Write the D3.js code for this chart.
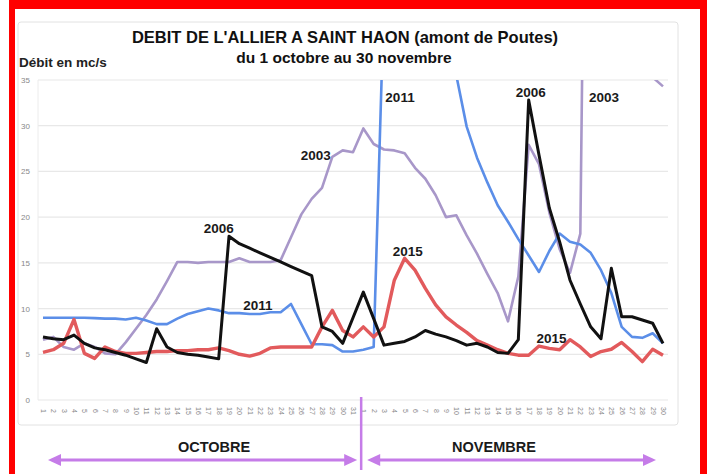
<!DOCTYPE html>
<html>
<head>
<meta charset="utf-8">
<script src="https://cdn.jsdelivr.net/npm/d3@7"></script>
<style>
  body { margin: 0; background: #fff; }
  svg text { font-family: "Liberation Sans", Arial, sans-serif; }
</style>
</head>
<body>
<div id="chart"></div>
<script>
// day labels, 1 oct -> 30 nov
const octDays = [1,2,3,4,5,6,7,8,9,10,11,12,13,14,15,16,17,18,19,20,21,22,23,24,25,26,27,28,29,30,31];
const novDays = [1,2,3,4,5,6,7,8,9,10,11,12,13,14,15,16,17,18,19,20,21,22,23,24,25,26,27,28,29,30];
const dayLabels = octDays.concat(novDays);
const yTicks = [0, 5, 10, 15, 20, 25, 30, 35];

// débit en mc/s (values above 35 run off the chart)
const q2003 = [6.6, 6.9, 5.8, 5.5, 6.2, 5.8, 5.1, 5.0, 6.3, 7.8, 9.3, 11.0, 13.0, 15.1, 15.1, 15.0, 15.1, 15.1, 15.1, 15.5,
  15.1, 15.1, 15.1, 15.3, 17.8, 20.3, 22.0, 23.2, 26.6, 27.3, 27.1,
  29.7, 28.0, 27.4, 27.3, 27.0, 25.4, 24.2, 22.4, 20.0, 20.2, 18.0, 16.0, 13.8, 11.7, 8.6, 13.5, 27.9, 25.8, 20.5, 16.5,
  13.9, 18.2, 118, 95, 75, 60, 50, 42, 35.3, 34.3];
const q2006 = [6.9, 6.7, 6.6, 7.1, 6.2, 5.7, 5.5, 5.2, 4.9, 4.5, 4.1, 7.8, 5.8, 5.2, 5.0, 4.9, 4.7, 4.5, 17.9, 17.1,
  16.6, 16.1, 15.6, 15.1, 14.6, 14.1, 13.6, 8.0, 7.5, 6.2, 9.0,
  11.8, 8.9, 6.0, 6.2, 6.4, 6.9, 7.6, 7.2, 6.9, 6.5, 6.0, 6.2, 5.8, 5.2, 5.1, 6.6, 32.8, 26.8, 21.0, 17.3,
  13.1, 10.5, 8.0, 6.7, 14.4, 9.1, 9.1, 8.75, 8.4, 6.2];
const q2011 = [9.0, 9.0, 9.0, 9.0, 9.0, 8.95, 8.9, 8.9, 8.8, 9.0, 8.7, 8.3, 8.3, 8.9, 9.4, 9.7, 10.0, 9.8, 9.5, 9.5,
  9.4, 9.4, 9.6, 9.6, 10.5, 8.3, 6.1, 6.1, 6.0, 5.3, 5.3,
  5.5, 5.8, 44, 60, 70, 65, 58, 50, 42, 35.5, 29.9, 26.5, 23.8, 21.3, 19.5, 17.6, 15.8, 14.0, 16.3, 18.2,
  17.3, 17.0, 16.1, 14.2, 11.7, 8.0, 6.9, 6.8, 7.3, 6.2];
const q2015 = [5.2, 5.5, 6.2, 8.8, 5.1, 4.55, 5.8, 5.3, 5.1, 5.1, 5.2, 5.3, 5.3, 5.4, 5.4, 5.5, 5.5, 5.7, 5.4, 5.0,
  4.8, 5.1, 5.7, 5.8, 5.8, 5.8, 5.8, 8.0, 9.8, 7.6, 6.9,
  8.0, 6.9, 8.0, 13.1, 15.5, 14.2, 12.2, 10.4, 9.1, 8.2, 7.4, 6.5, 6.0, 5.5, 5.1, 4.9, 4.9, 5.9, 5.65, 5.5,
  6.6, 5.8, 4.75, 5.3, 5.55, 6.3, 5.3, 4.2, 5.55, 4.9];

const seriesNames = ["2003", "2011", "2015", "2006"];
const seriesValues = { "2003": q2003, "2011": q2011, "2015": q2015, "2006": q2006 };

class DebitChart {
    constructor(parentElement) {
        this.parentElement = parentElement;
        this.initVis();
    }

    initVis() {
        let vis = this;

        vis.width = 707;
        vis.height = 474;
        vis.plot = { left: 38, right: 668, top: 80, bottom: 400 };

        vis.svg = d3.select(`#${vis.parentElement}`)
            .append("svg")
            .attr("width", vis.width)
            .attr("height", vis.height);

        // red frame
        vis.svg.append("rect")
            .attr("x", 9).attr("y", -10)
            .attr("width", 710).attr("height", 500)
            .attr("fill", "#ff0000");
        vis.svg.append("rect")
            .attr("x", 15).attr("y", 9)
            .attr("width", 685).attr("height", 480)
            .attr("fill", "#fff");

        // chart panel
        vis.svg.append("rect")
            .attr("x", 18).attr("y", 22)
            .attr("width", 660).attr("height", 403)
            .attr("rx", 3)
            .attr("fill", "#fff")
            .attr("stroke", "#e2e2e2");

        // scales
        vis.x = d3.scaleLinear()
            .domain([0, dayLabels.length - 1])
            .range([43, 663]);
        vis.y = d3.scaleLinear()
            .domain([0, 35])
            .range([vis.plot.bottom, vis.plot.top]);

        // grid
        vis.svg.append("g")
            .selectAll("line")
            .data(yTicks)
            .join("line")
            .attr("x1", vis.plot.left)
            .attr("x2", vis.plot.right)
            .attr("y1", d => vis.y(d))
            .attr("y2", d => vis.y(d))
            .attr("stroke", "#e8e8e8")
            .attr("stroke-width", 1.2);
        vis.svg.append("line")
            .attr("x1", vis.plot.left).attr("x2", vis.plot.left)
            .attr("y1", vis.plot.top).attr("y2", vis.plot.bottom)
            .attr("stroke", "#ececec");

        // axes
        vis.yAxisGroup = vis.svg.append("g")
            .attr("transform", `translate(${vis.plot.left}, 0)`)
            .call(d3.axisLeft(vis.y).tickValues(yTicks).tickSize(0).tickPadding(8));
        vis.yAxisGroup.select(".domain").remove();
        vis.yAxisGroup.selectAll("text")
            .attr("font-size", 8)
            .attr("font-family", "Liberation Sans, Arial, sans-serif")
            .attr("fill", "#888");

        vis.xAxisGroup = vis.svg.append("g")
            .attr("transform", `translate(0, ${vis.plot.bottom})`)
            .call(d3.axisBottom(vis.x)
                .tickValues(d3.range(dayLabels.length))
                .tickFormat(i => dayLabels[i])
                .tickSize(0));
        vis.xAxisGroup.select(".domain").remove();
        vis.xAxisGroup.selectAll("text")
            .attr("font-size", 7)
            .attr("font-family", "Liberation Sans, Arial, sans-serif")
            .attr("fill", "#888")
            .attr("text-anchor", "middle")
            .attr("dy", null)
            .attr("y", 0)
            .attr("transform", "translate(0, 11) rotate(90)")
            .attr("dominant-baseline", "central");

        // title
        vis.svg.append("text")
            .attr("x", 345).attr("y", 43)
            .attr("text-anchor", "middle")
            .attr("font-size", 16.5).attr("font-weight", "bold")
            .attr("fill", "#111")
            .text("DEBIT DE L'ALLIER A SAINT HAON (amont de Poutes)");
        vis.svg.append("text")
            .attr("x", 344).attr("y", 63)
            .attr("text-anchor", "middle")
            .attr("font-size", 15.5).attr("font-weight", "bold")
            .attr("fill", "#111")
            .text("du 1 octobre au 30 novembre");
        vis.svg.append("text")
            .attr("x", 19).attr("y", 67)
            .attr("font-size", 13.5).attr("font-weight", "bold")
            .attr("fill", "#222")
            .text("Débit en mc/s");

        vis.svg.append("clipPath")
            .attr("id", "plot-clip")
            .append("rect")
            .attr("x", vis.plot.left).attr("y", vis.plot.top)
            .attr("width", vis.plot.right - vis.plot.left)
            .attr("height", vis.plot.bottom - vis.plot.top);

        vis.linesGroup = vis.svg.append("g").attr("clip-path", "url(#plot-clip)");

        vis.updateVis();
    }

    updateVis() {
        let vis = this;

        const colors = { "2003": "#a897c9", "2011": "#5b8ee8", "2015": "#e25a5c", "2006": "#111111" };
        const widths = { "2003": 2.6, "2011": 2.6, "2015": 3.4, "2006": 3.0 };

        const line = d3.line()
            .x((d, i) => vis.x(i))
            .y(d => vis.y(d));

        vis.linesGroup.selectAll(".serie")
            .data(seriesNames)
            .join("path")
            .attr("class", "serie")
            .attr("d", name => line(seriesValues[name]))
            .attr("fill", "none")
            .attr("stroke", name => colors[name])
            .attr("stroke-width", name => widths[name])
            .attr("stroke-linejoin", "round");

        // year labels next to the curves (day index, débit)
        const notes = [
            ["2011", 34.55, 32.6], ["2006", 47.2, 33.1], ["2003", 54.3, 32.6],
            ["2003", 26.4, 26.2], ["2006", 17.0, 18.3], ["2011", 20.8, 9.85],
            ["2015", 35.3, 15.75], ["2015", 49.2, 6.2]
        ];
        vis.svg.append("g")
            .selectAll("text")
            .data(notes)
            .join("text")
            .attr("x", d => vis.x(d[1]))
            .attr("y", d => vis.y(d[2]))
            .attr("text-anchor", "middle")
            .attr("font-size", 13.5).attr("font-weight", "bold")
            .attr("fill", "#1a1a1a")
            .text(d => d[0]);

        // months band
        const monthColor = "#c57ce8";
        const split = (vis.x(30) + vis.x(31)) / 2 + 3;
        vis.svg.append("line")
            .attr("x1", split).attr("x2", split)
            .attr("y1", 397).attr("y2", 470)
            .attr("stroke", monthColor).attr("stroke-width", 2.5);

        const months = [
            { name: "OCTOBRE", from: 48, to: split - 4, label: 214 },
            { name: "NOVEMBRE", from: split + 6, to: 656, label: 494 }
        ];
        const ay = 460;
        months.forEach(m => {
            vis.svg.append("line")
                .attr("x1", m.from + 10).attr("x2", m.to - 10)
                .attr("y1", ay).attr("y2", ay)
                .attr("stroke", monthColor).attr("stroke-width", 3);
            vis.svg.append("path")
                .attr("d", `M${m.from},${ay} L${m.from + 13},${ay - 6} L${m.from + 13},${ay + 6} Z`)
                .attr("fill", monthColor);
            vis.svg.append("path")
                .attr("d", `M${m.to},${ay} L${m.to - 13},${ay - 6} L${m.to - 13},${ay + 6} Z`)
                .attr("fill", monthColor);
            vis.svg.append("text")
                .attr("x", m.label)
                .attr("y", ay - 8)
                .attr("text-anchor", "middle")
                .attr("font-size", 14.5).attr("font-weight", "bold")
                .attr("fill", "#1a1a1a")
                .text(m.name);
        });
    }
}

new DebitChart("chart");
</script>
</body>
</html>
